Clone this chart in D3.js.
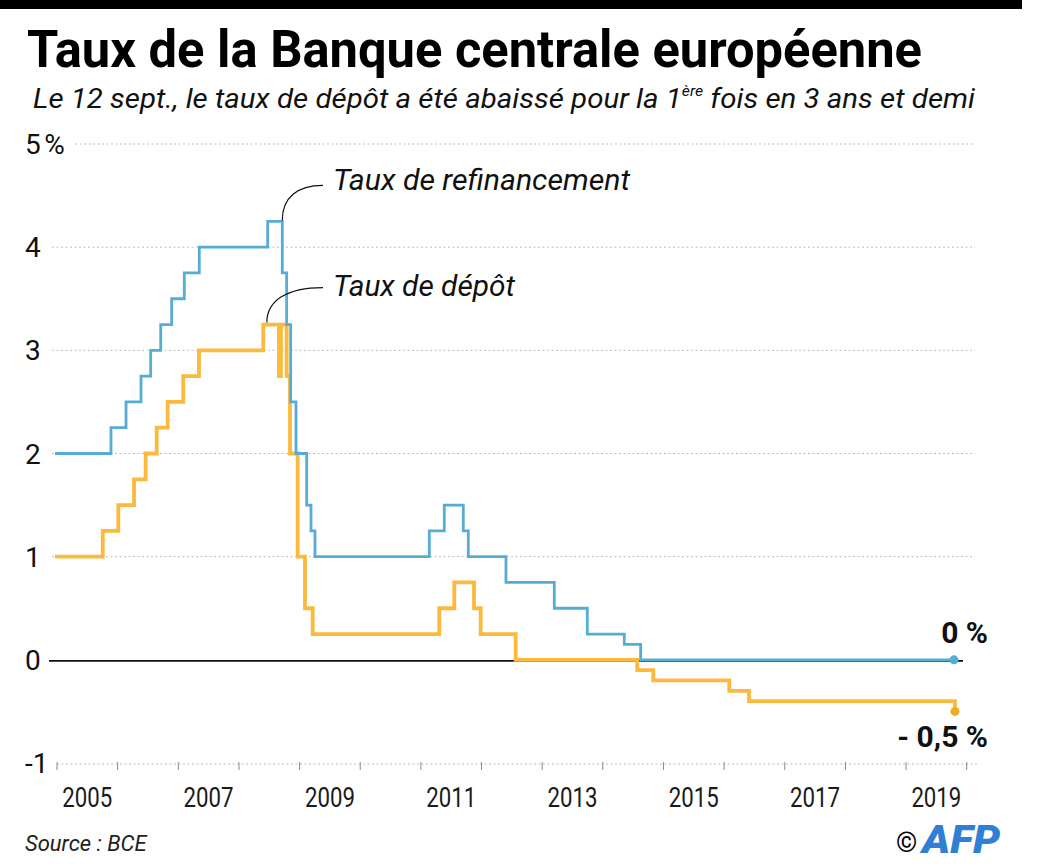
<!DOCTYPE html>
<html lang="fr">
<head>
<meta charset="utf-8">
<title>Taux de la Banque centrale européenne</title>
<script src="https://cdn.jsdelivr.net/npm/d3@7"></script>
<style>
  html, body { margin: 0; padding: 0; background: #fff; }
  svg { display: block; font-family: Roboto, "Noto Sans", sans-serif; }
</style>
</head>
<body>
<div id="chart"></div>
<script>
// Step dates as decimal years, values in %
const refiDates = [2004.967, 2005.890, 2006.138, 2006.385, 2006.545, 2006.710, 2006.891, 2007.099, 2007.346,
    2008.474, 2008.715, 2008.787, 2008.853, 2008.941, 2009.117, 2009.188, 2009.254,
    2011.139, 2011.386, 2011.699, 2011.782, 2012.403, 2013.200, 2013.744, 2014.354, 2014.624, 2019.790];
const refiValues = [2.00, 2.25, 2.50, 2.75, 3.00, 3.25, 3.50, 3.75, 4.00,
    4.25, 3.75, 3.25, 2.50, 2.00, 1.50, 1.25, 1.00,
    1.25, 1.50, 1.25, 1.00, 0.75, 0.50, 0.25, 0.15, 0.00, 0.00];

const depotDates = [2004.967, 2005.754, 2006.011, 2006.270, 2006.462, 2006.644, 2006.825, 2007.082, 2007.341,
    2008.401, 2008.660, 2008.693, 2008.787, 2008.842, 2008.969, 2009.089, 2009.216,
    2011.303, 2011.551, 2011.876, 2011.986, 2012.563, 2014.568, 2014.832, 2016.085, 2016.410, 2019.806];
const depotValues = [1.00, 1.25, 1.50, 1.75, 2.00, 2.25, 2.50, 2.75, 3.00,
    3.25, 2.75, 3.25, 2.75, 2.00, 1.00, 0.50, 0.25,
    0.50, 0.75, 0.50, 0.25, 0.00, -0.10, -0.20, -0.30, -0.40, -0.50];

const yTicks = [5, 4, 3, 2, 1, 0, -1];
const yTickLabels = ["5\u202F%", "4", "3", "2", "1", "0", "-1"];
const yearTicks = d3.range(2005, 2021);
const yearLabels = [2005, 2007, 2009, 2011, 2013, 2015, 2017, 2019];

const width = 1044, height = 864;
const blue = "#55acd5", orange = "#fbb93e";

const svg = d3.select("#chart").append("svg")
    .attr("width", width)
    .attr("height", height);

const x = d3.scaleLinear().domain([2005, 2020]).range([57, 966.7]);
const y = d3.scaleLinear().domain([-1, 5]).range([763, 144]);

// top black band
svg.append("rect").attr("x", 0).attr("y", 0).attr("width", 1022).attr("height", 9).attr("fill", "#000");

// title + subtitle
svg.append("text")
    .attr("x", 27).attr("y", 67)
    .attr("font-size", 52).attr("font-weight", 700)
    .attr("textLength", 895).attr("lengthAdjust", "spacingAndGlyphs")
    .text("Taux de la Banque centrale européenne");

const sub = svg.append("text")
    .attr("x", 33).attr("y", 108)
    .attr("font-size", 28).attr("font-style", "italic")
    .attr("fill", "#111")
    .attr("textLength", 942).attr("lengthAdjust", "spacingAndGlyphs");
sub.append("tspan").text("Le 12 sept., le taux de dépôt a été abaissé pour la 1");
sub.append("tspan").attr("font-size", 15).attr("dy", -12).text("ère");
sub.append("tspan").attr("dy", 12).text(" fois en 3 ans et demi");

// gridlines
const grid = svg.append("g").attr("class", "grid");
grid.selectAll("line")
    .data(yTicks.filter(d => d !== 0 && d !== -1))
    .enter().append("line")
    .attr("x1", d => d === 5 ? 75 : 52)
    .attr("x2", 975)
    .attr("y1", d => y(d)).attr("y2", d => y(d))
    .attr("stroke", "#bdbdbd")
    .attr("stroke-width", 1)
    .attr("stroke-dasharray", "2,2.5");

// bottom axis (-1) dotted with yearly ticks
svg.append("line")
    .attr("x1", 57).attr("x2", 977)
    .attr("y1", y(-1) + 1).attr("y2", y(-1) + 1)
    .attr("stroke", "#bdbdbd")
    .attr("stroke-dasharray", "2,2.5");

svg.append("g").selectAll("line")
    .data(yearTicks)
    .enter().append("line")
    .attr("x1", d => x(d)).attr("x2", d => x(d))
    .attr("y1", y(-1) - 1).attr("y2", y(-1) + 7)
    .attr("stroke", "#8a8a8a")
    .attr("stroke-width", 1);

svg.append("g").selectAll("text")
    .data(yearLabels)
    .enter().append("text")
    .attr("x", d => x(d + 0.5))
    .attr("y", 807)
    .attr("text-anchor", "middle")
    .attr("font-size", 27)
    .attr("fill", "#1a1a1a")
    .attr("textLength", 50).attr("lengthAdjust", "spacingAndGlyphs")
    .text(d => d);

// y labels
svg.append("g").selectAll("text")
    .data(yTicks)
    .enter().append("text")
    .attr("x", 25)
    .attr("y", d => y(d) + 10)
    .attr("font-size", 28)
    .attr("fill", "#111")
    .text((d, i) => yTickLabels[i]);

// zero line
svg.append("line")
    .attr("x1", 49).attr("x2", 963)
    .attr("y1", y(0) + 1).attr("y2", y(0) + 1)
    .attr("stroke", "#111")
    .attr("stroke-width", 1.6);

// step lines
const line = d3.line()
    .x(d => x(d[0]))
    .y(d => y(d[1]))
    .curve(d3.curveStepAfter);

const depot = d3.zip(depotDates, depotValues);
const refi = d3.zip(refiDates, refiValues);

svg.append("path")
    .datum(depot)
    .attr("d", line)
    .attr("fill", "none")
    .attr("stroke", orange)
    .attr("stroke-width", 3.8)
    .attr("stroke-linejoin", "miter");

svg.append("path")
    .datum(refi)
    .attr("d", line)
    .attr("fill", "none")
    .attr("stroke", blue)
    .attr("stroke-width", 2.8);

// end dots
const lastRefi = refi[refi.length - 1];
const lastDepot = depot[depot.length - 1];
svg.append("circle").attr("cx", x(lastRefi[0])).attr("cy", y(lastRefi[1])).attr("r", 4.5).attr("fill", blue);
svg.append("circle").attr("cx", x(lastDepot[0])).attr("cy", y(lastDepot[1])).attr("r", 4.5).attr("fill", "#f2ab1f");

svg.append("text")
    .attr("x", 988).attr("y", 643)
    .attr("text-anchor", "end")
    .attr("font-size", 30).attr("font-weight", 700)
    .attr("fill", "#111")
    .text("0 %");

svg.append("text")
    .attr("x", 988).attr("y", 747)
    .attr("text-anchor", "end")
    .attr("font-size", 30).attr("font-weight", 700)
    .attr("fill", "#111")
    .text("- 0,5 %");

// series labels with leader curves
const refiPeak = [2008.715, 4.25];
const depotPeak = [2008.46, 3.25];

svg.append("path")
    .attr("d", `M${x(refiPeak[0])},${y(refiPeak[1]) - 1} C${x(refiPeak[0])},${y(refiPeak[1]) - 24} ${x(refiPeak[0]) + 15},${y(refiPeak[1]) - 36} 323,${y(refiPeak[1]) - 36}`)
    .attr("fill", "none").attr("stroke", "#111").attr("stroke-width", 1.2);

svg.append("path")
    .attr("d", `M${x(depotPeak[0])},${y(depotPeak[1]) - 2} C${x(depotPeak[0])},${y(depotPeak[1]) - 24} ${x(depotPeak[0]) + 20},${y(depotPeak[1]) - 37} 323,${y(depotPeak[1]) - 37}`)
    .attr("fill", "none").attr("stroke", "#111").attr("stroke-width", 1.2);

svg.append("text")
    .attr("x", 333).attr("y", 190)
    .attr("font-size", 30).attr("font-style", "italic")
    .attr("fill", "#111")
    .attr("textLength", 297).attr("lengthAdjust", "spacingAndGlyphs")
    .text("Taux de refinancement");

svg.append("text")
    .attr("x", 333).attr("y", 296)
    .attr("font-size", 30).attr("font-style", "italic")
    .attr("fill", "#111")
    .attr("textLength", 182).attr("lengthAdjust", "spacingAndGlyphs")
    .text("Taux de dépôt");

// footer
svg.append("text")
    .attr("x", 25).attr("y", 851)
    .attr("font-size", 22).attr("font-style", "italic")
    .attr("fill", "#222")
    .text("Source : BCE");

svg.append("text")
    .attr("x", 896).attr("y", 852)
    .attr("font-size", 27)
    .text("©");

svg.append("text")
    .attr("x", 922).attr("y", 853)
    .attr("font-size", 38).attr("font-weight", 900).attr("font-style", "italic")
    .attr("fill", "#2f80d4")
    .attr("textLength", 78).attr("lengthAdjust", "spacingAndGlyphs")
    .text("AFP");
</script>
</body>
</html>
